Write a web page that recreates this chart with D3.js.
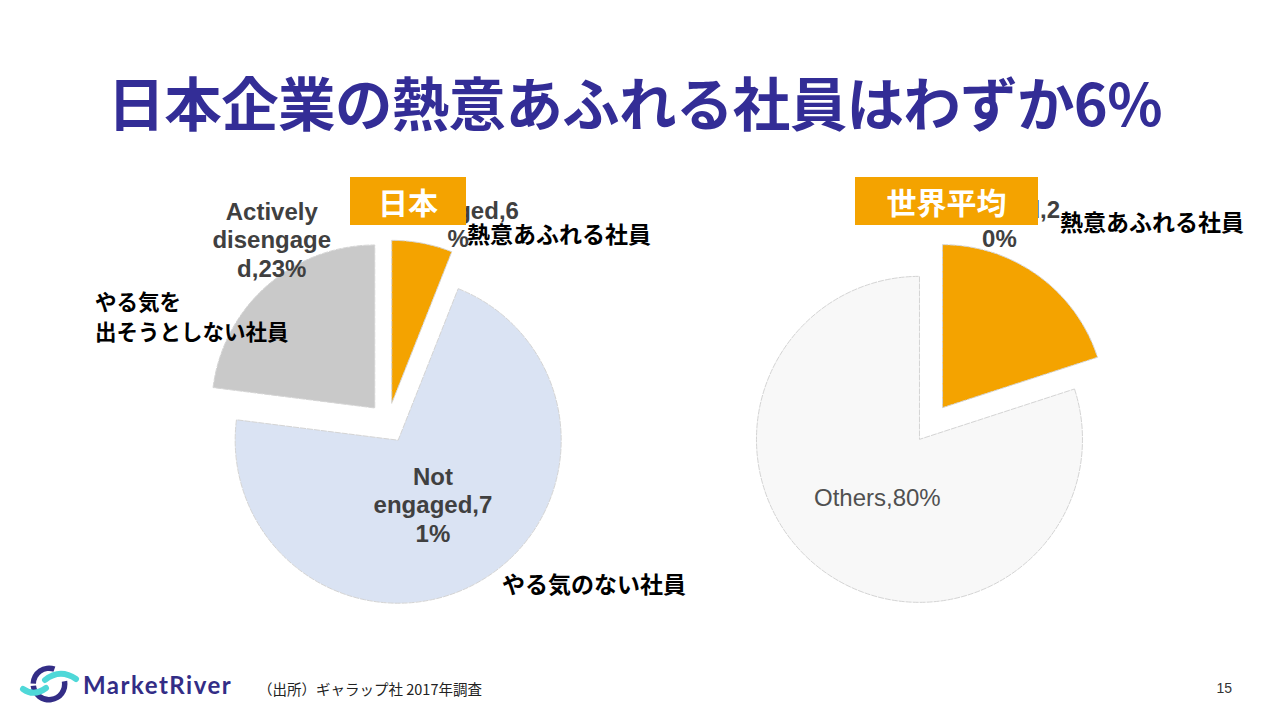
<!DOCTYPE html>
<html lang="ja">
  <head>
    <meta charset="utf-8">
    <title>日本企業の熱意あふれる社員はわずか6%</title>
    <style>
      body { margin: 0; background: white; }
      svg { display: block; }
      .lbl { font-family: "Liberation Sans", Arial, sans-serif; fill: #404040; }
      .jp { font-family: "Noto Sans CJK JP", sans-serif; }
    </style>
    <script src="https://d3js.org/d3.v7.min.js"></script>
  </head>
  <body>
    <script>
    // data
    const jpNames = ["Engaged", "Not engaged", "Actively disengaged"];
    const jpValues = [6, 71, 23];
    const jpLabelLines = [["Engaged,6", "%"], ["Not", "engaged,7", "1%"], ["Actively", "disengage", "d,23%"]];

    const worldNames = ["Engaged", "Others"];
    const worldValues = [20, 80];
    const worldLabelLines = [["Engaged,2", "0%"], ["Others,80%"]];

    const colorsJp = ["#f4a300", "#dae3f3", "#c9c9c9"];
    const colorsWorld = ["#f4a300", "#f8f8f8"];

    const width = 1280, height = 720;
    const svg = d3.select("body").append("svg")
      .attr("width", width)
      .attr("height", height);

    // title
    svg.append("text")
      .attr("class", "jp")
      .attr("x", 635)
      .attr("y", 126)
      .attr("text-anchor", "middle")
      .attr("textLength", 1055)
      .style("font-size", "57.5px")
      .style("font-weight", "bold")
      .style("fill", "#332d96")
      .text("日本企業の熱意あふれる社員はわずか6%");

    const r = 163;
    const arc = d3.arc().innerRadius(0).outerRadius(r);
    const pie = d3.pie().sort(null).value(d => d);

    // label placement: distance factor of radius and angle shift (deg) from slice middle
    function drawPie(cx, cy, explode, values, colors, lines, labelPos, labelStyle) {
      const g = svg.append("g").attr("transform", `translate(${cx},${cy})`);
      const arcs = pie(values);
      const shift = d => {
        const m = (d.startAngle + d.endAngle) / 2;
        return [explode * Math.sin(m), -explode * Math.cos(m)];
      };
      g.selectAll("path")
        .data(arcs)
        .join("path")
        .attr("transform", d => `translate(${shift(d)})`)
        .attr("d", arc)
        .attr("fill", (d, i) => colors[i])
        .attr("stroke", "#d4d4d4")
        .attr("stroke-width", 1)
        .attr("stroke-dasharray", "6,1");

      g.selectAll("text.lbl")
        .data(arcs)
        .join("text")
        .attr("class", "lbl")
        .attr("text-anchor", "middle")
        .style("font-size", "24px")
        .style("font-weight", (d, i) => labelStyle[i])
        .style("fill", (d, i) => labelStyle[i] === "bold" ? "#404040" : "#505050")
        .each(function(d, i) {
          const m = (d.startAngle + d.endAngle) / 2 + labelPos[i][1] * Math.PI / 180;
          const [sx, sy] = shift(d);
          const x = sx + labelPos[i][0] * r * Math.sin(m);
          const y = sy - labelPos[i][0] * r * Math.cos(m);
          const n = lines[i].length;
          d3.select(this).selectAll("tspan")
            .data(lines[i])
            .join("tspan")
            .attr("x", x)
            .attr("y", (t, j) => y + (j - (n - 1) / 2) * 28.5)
            .attr("dominant-baseline", "central")
            .text(t => t);
        });
      return g;
    }

    drawPie(388, 423, 20, jpValues, colorsJp, jpLabelLines,
      [[1.17, 9.6], [0.45, 2.3], [1.21, 9.9]], ["bold", "bold", "bold"]);
    drawPie(931, 423.5, 19.6, worldValues, colorsWorld, worldLabelLines,
      [[1.18, -18.8], [0.44, 0]], ["bold", "normal"]);

    // black annotations
    const notes = [
      { x: 467, y: 233, t: "熱意あふれる社員", s: 23 },
      { x: 95, y: 300, t: "やる気を", s: 21.5 },
      { x: 95, y: 330, t: "出そうとしない社員", s: 21.5 },
      { x: 502, y: 583, t: "やる気のない社員", s: 23 },
      { x: 1060, y: 221, t: "熱意あふれる社員", s: 23 }
    ];
    svg.selectAll("text.note")
      .data(notes)
      .join("text")
      .attr("class", "note jp")
      .attr("x", d => d.x)
      .attr("y", d => d.y)
      .attr("dominant-baseline", "central")
      .style("font-size", d => d.s + "px")
      .style("font-weight", "bold")
      .style("fill", "#000")
      .text(d => d.t);

    // orange title boxes
    const boxes = [
      { x: 350, w: 116, t: "日本" },
      { x: 855, w: 183, t: "世界平均" }
    ];
    const bx = svg.selectAll("g.box").data(boxes).join("g").attr("class", "box");
    bx.append("rect")
      .attr("x", d => d.x).attr("y", 177)
      .attr("width", d => d.w).attr("height", 48)
      .attr("fill", "#f4a300");
    bx.append("text")
      .attr("class", "jp")
      .attr("x", d => d.x + d.w / 2)
      .attr("y", 201)
      .attr("text-anchor", "middle")
      .attr("dominant-baseline", "central")
      .style("font-size", "30px")
      .style("font-weight", "bold")
      .style("fill", "white")
      .text(d => d.t);

    // footer logo
    const logo = svg.append("g");
    logo.append("path")
      .attr("d", d3.arc().innerRadius(13).outerRadius(18.5).startAngle(-1.55).endAngle(0.35)())
      .attr("transform", "translate(49,684)")
      .attr("fill", "#332d86");
    logo.append("path")
      .attr("d", d3.arc().innerRadius(13).outerRadius(18.5).startAngle(1.4).endAngle(4.6)())
      .attr("transform", "translate(49,684)")
      .attr("fill", "#332d86");
    logo.append("path")
      .attr("d", "M45,680 Q60,668 76,679")
      .attr("fill", "none").attr("stroke", "#4fd8d8").attr("stroke-width", 6).attr("stroke-linecap", "round");
    logo.append("path")
      .attr("d", "M23,689 Q34,697 46,688")
      .attr("fill", "none").attr("stroke", "#4fd8d8").attr("stroke-width", 6).attr("stroke-linecap", "round");
    svg.append("text")
      .attr("x", 83).attr("y", 694)
      .style("font-family", "Lato, sans-serif")
      .style("font-size", "24px")
      .style("font-weight", "bold")
      .style("letter-spacing", "1.5px")
      .style("fill", "#332d86")
      .text("MarketRiver");

    svg.append("text")
      .attr("class", "jp")
      .attr("x", 258).attr("y", 688)
      .attr("dominant-baseline", "central")
      .style("font-size", "14.5px")
      .style("fill", "#222")
      .text("（出所）ギャラップ社   2017年調査");

    svg.append("text")
      .attr("x", 1232).attr("y", 688)
      .attr("text-anchor", "end")
      .attr("dominant-baseline", "central")
      .style("font-family", "Liberation Sans, Arial, sans-serif")
      .style("font-size", "14px")
      .style("fill", "#333")
      .text("15");
    </script>
  </body>
</html>
